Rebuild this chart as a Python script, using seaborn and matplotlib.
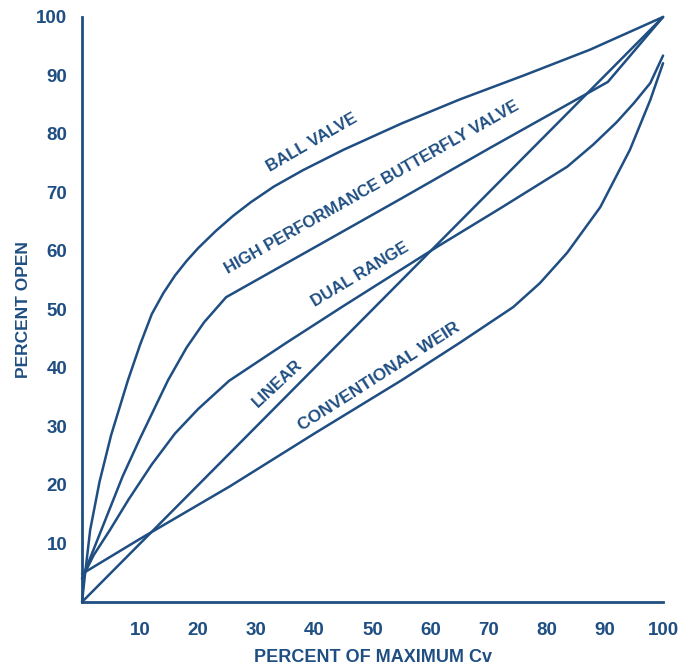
import matplotlib
matplotlib.use("Agg")
import matplotlib.pyplot as plt
import seaborn as sns
import pandas as pd

# Inherent flow characteristics: percent open vs percent of maximum Cv
ball_x = [0, 0.5, 1.4, 3, 5, 7.9, 10, 12, 14, 16, 18, 20, 23, 26, 29, 33, 38, 45, 55, 65, 76, 87.4, 100]
ball_y = [0, 4.6, 12.3, 20.5, 28.5, 37.9, 44.0, 49.2, 52.8, 55.8, 58.3, 60.5, 63.4, 66.0, 68.3, 71.0, 73.8, 77.3, 81.8, 85.9, 90.0, 94.4, 100]

hpbv_x = [0, 2, 4, 7, 10, 14.8, 18, 21, 24.8, 40, 55, 70, 90.5, 100]
hpbv_y = [4, 9, 14, 21.5, 28, 37.9, 43.5, 47.8, 52.1, 60.6, 69, 77.5, 88.9, 100]

dual_x = [0, 2, 4.8, 8, 12, 16, 20, 25.3, 35, 45, 61.1, 72, 83.5, 88, 92, 95, 97.8, 100]
dual_y = [4, 8, 12.3, 17.5, 23.5, 28.8, 33, 37.8, 44.2, 50.6, 60.7, 67.3, 74.4, 78.2, 82, 85.3, 88.7, 93.4]

linear_x = [0, 100]
linear_y = [0, 100]

weir_x = [0, 10, 25.5, 40, 55, 65, 74.2, 78.8, 83.5, 89.2, 94.3, 97.8, 100]
weir_y = [4.8, 10.8, 19.8, 28.8, 37.9, 44.3, 50.4, 54.5, 59.7, 67.5, 77.3, 85.8, 92.1]

ticks = [10, 20, 30, 40, 50, 60, 70, 80, 90, 100]

series = {
    "BALL VALVE": (ball_x, ball_y),
    "HIGH PERFORMANCE BUTTERFLY VALVE": (hpbv_x, hpbv_y),
    "DUAL RANGE": (dual_x, dual_y),
    "LINEAR": (linear_x, linear_y),
    "CONVENTIONAL WEIR": (weir_x, weir_y),
}

frames = []
for name, (xs, ys) in series.items():
    frames.append(pd.DataFrame({"cv": xs, "open": ys, "valve": name}))
df = pd.concat(frames, ignore_index=True)

NAVY = "#1f4e82"
sns.set_style("white")
plt.rcParams["font.family"] = ["Liberation Sans", "DejaVu Sans"]

fig = plt.figure(figsize=(6.94, 6.69), dpi=100)
ax = fig.add_axes([0.1182, 0.1002, 0.8372, 0.8744])

sns.lineplot(data=df, x="cv", y="open", hue="valve", units="valve",
             estimator=None, sort=False, legend=False,
             palette=[NAVY] * len(series), linewidth=1.8, ax=ax)
for ln in ax.lines:
    ln.set_clip_on(False)
    ln.set_solid_joinstyle("round")

ax.set_xlim(0, 100)
ax.set_ylim(0, 100)
ax.set_xticks(ticks)
ax.set_yticks(ticks)
ax.set_xticklabels([str(t) for t in ticks])
ax.set_yticklabels([str(t) for t in ticks])

for side in ("top", "right"):
    ax.spines[side].set_visible(False)
for side in ("left", "bottom"):
    ax.spines[side].set_color(NAVY)
    ax.spines[side].set_linewidth(2.0)

ax.tick_params(direction="inout", length=15, width=1.6, color=NAVY,
               labelcolor=NAVY, labelsize=13.5)
ax.tick_params(axis="x", pad=7)
ax.tick_params(axis="y", pad=3)
for lab in ax.get_xticklabels() + ax.get_yticklabels():
    lab.set_fontweight("bold")

ax.set_xlabel("PERCENT OF MAXIMUM Cv", color=NAVY, fontsize=13,
              fontweight="bold")
ax.set_ylabel("PERCENT OPEN", color=NAVY, fontsize=12.5,
              fontweight="bold")
ax.xaxis.set_label_coords(0.50, -0.080)
ax.yaxis.set_label_coords(-0.088, 0.50)

# Curve captions written along each line
captions = [
    ("BALL VALVE", 39.6, 78.5, 30, 12),
    ("HIGH PERFORMANCE BUTTERFLY VALVE", 49.9, 70.9, 29.5, 12),
    ("DUAL RANGE", 47.8, 55.9, 31, 12),
    ("LINEAR", 33.7, 37.4, 43, 12),
    ("CONVENTIONAL WEIR", 51.1, 38.5, 32.5, 12.5),
]
for text, x, y, rot, size in captions:
    ax.text(x, y, text, rotation=rot, rotation_mode="anchor",
            ha="center", va="center", color=NAVY, fontsize=size,
            fontweight="bold")

fig.savefig("out.png", dpi=100)
